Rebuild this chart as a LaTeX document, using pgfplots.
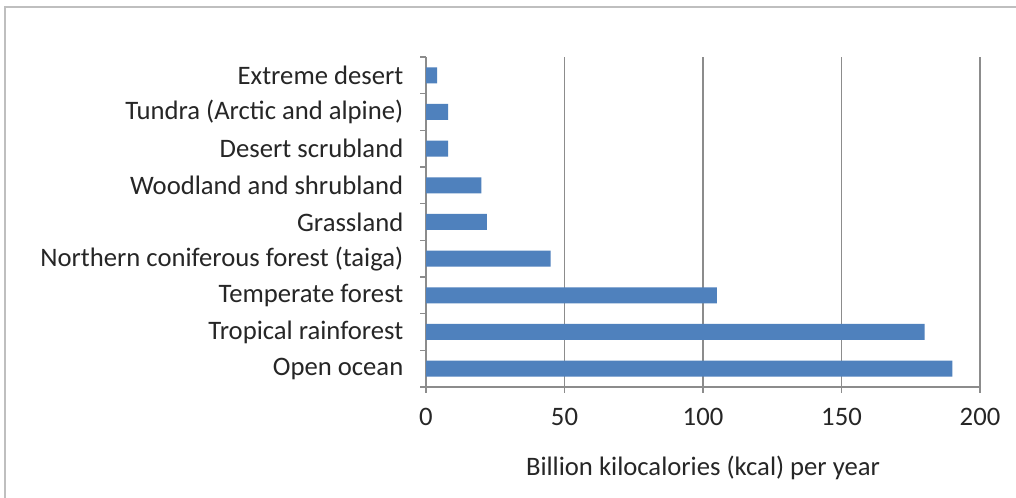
\documentclass[border=0pt]{standalone}
\usepackage{pgfplots}
\pgfplotsset{compat=1.18}
\usepackage{fontspec}
\setmainfont{Carlito}
\definecolor{barblue}{HTML}{4F81BD}
\definecolor{gridgray}{HTML}{8C8C8C}
\definecolor{framegray}{HTML}{BFBFBF}
\begin{document}
\begin{tikzpicture}
\clip (0,0) rectangle (762pt,373.5pt);
\fill[white] (0,0) rectangle (762pt,373.5pt);
\draw[framegray, line width=1.5pt] (3.75pt,-20pt) rectangle (800pt,368.25pt);
\begin{axis}[
  at={(319.5pt,83.25pt)}, anchor=south west,
  scale only axis, width=415.5pt, height=247.5pt,
  xbar, bar width=12pt,
  xmin=0, xmax=200, ymin=-0.5, ymax=8.5,
  xtick={0,50,100,150,200},
  ytick={0,...,8},
  yticklabels={Open ocean,Tropical rainforest,Temperate forest,Northern coniferous forest (taiga),Grassland,Woodland and shrubland,Desert scrubland,Tundra (Arctic and alpine),Extreme desert},
  minor ytick={-0.5,0.5,...,8.5},
  ytick style={draw=none},
  minor y tick style={draw=gridgray, line width=0.8pt},
  x tick style={draw=gridgray, line width=0.8pt},
  major tick length=4.5pt, minor tick length=4.5pt,
  tick align=outside,
  xtick pos=bottom, ytick pos=left,
  axis x line*=bottom, axis y line*=left,
  axis line style={draw=gridgray, line width=0.8pt, -},
  xmajorgrids, grid style={draw=gridgray, line width=0.8pt},
  tick label style={font=\fontsize{20}{24}\selectfont, text=black!85},
  /pgf/number format/assume math mode=true,
  xlabel={Billion kilocalories (kcal) per year},
  xlabel style={font=\fontsize{20}{24}\selectfont, text=black!85, yshift=-16pt},
  yticklabel style={xshift=-9pt},
  xticklabel style={yshift=-8pt},
]
\addplot[fill=barblue, draw=none] coordinates {
(190,0) (180,1) (105,2) (45,3) (22,4) (20,5) (8,6) (8,7) (4,8)
};
\end{axis}
\end{tikzpicture}
\end{document}
